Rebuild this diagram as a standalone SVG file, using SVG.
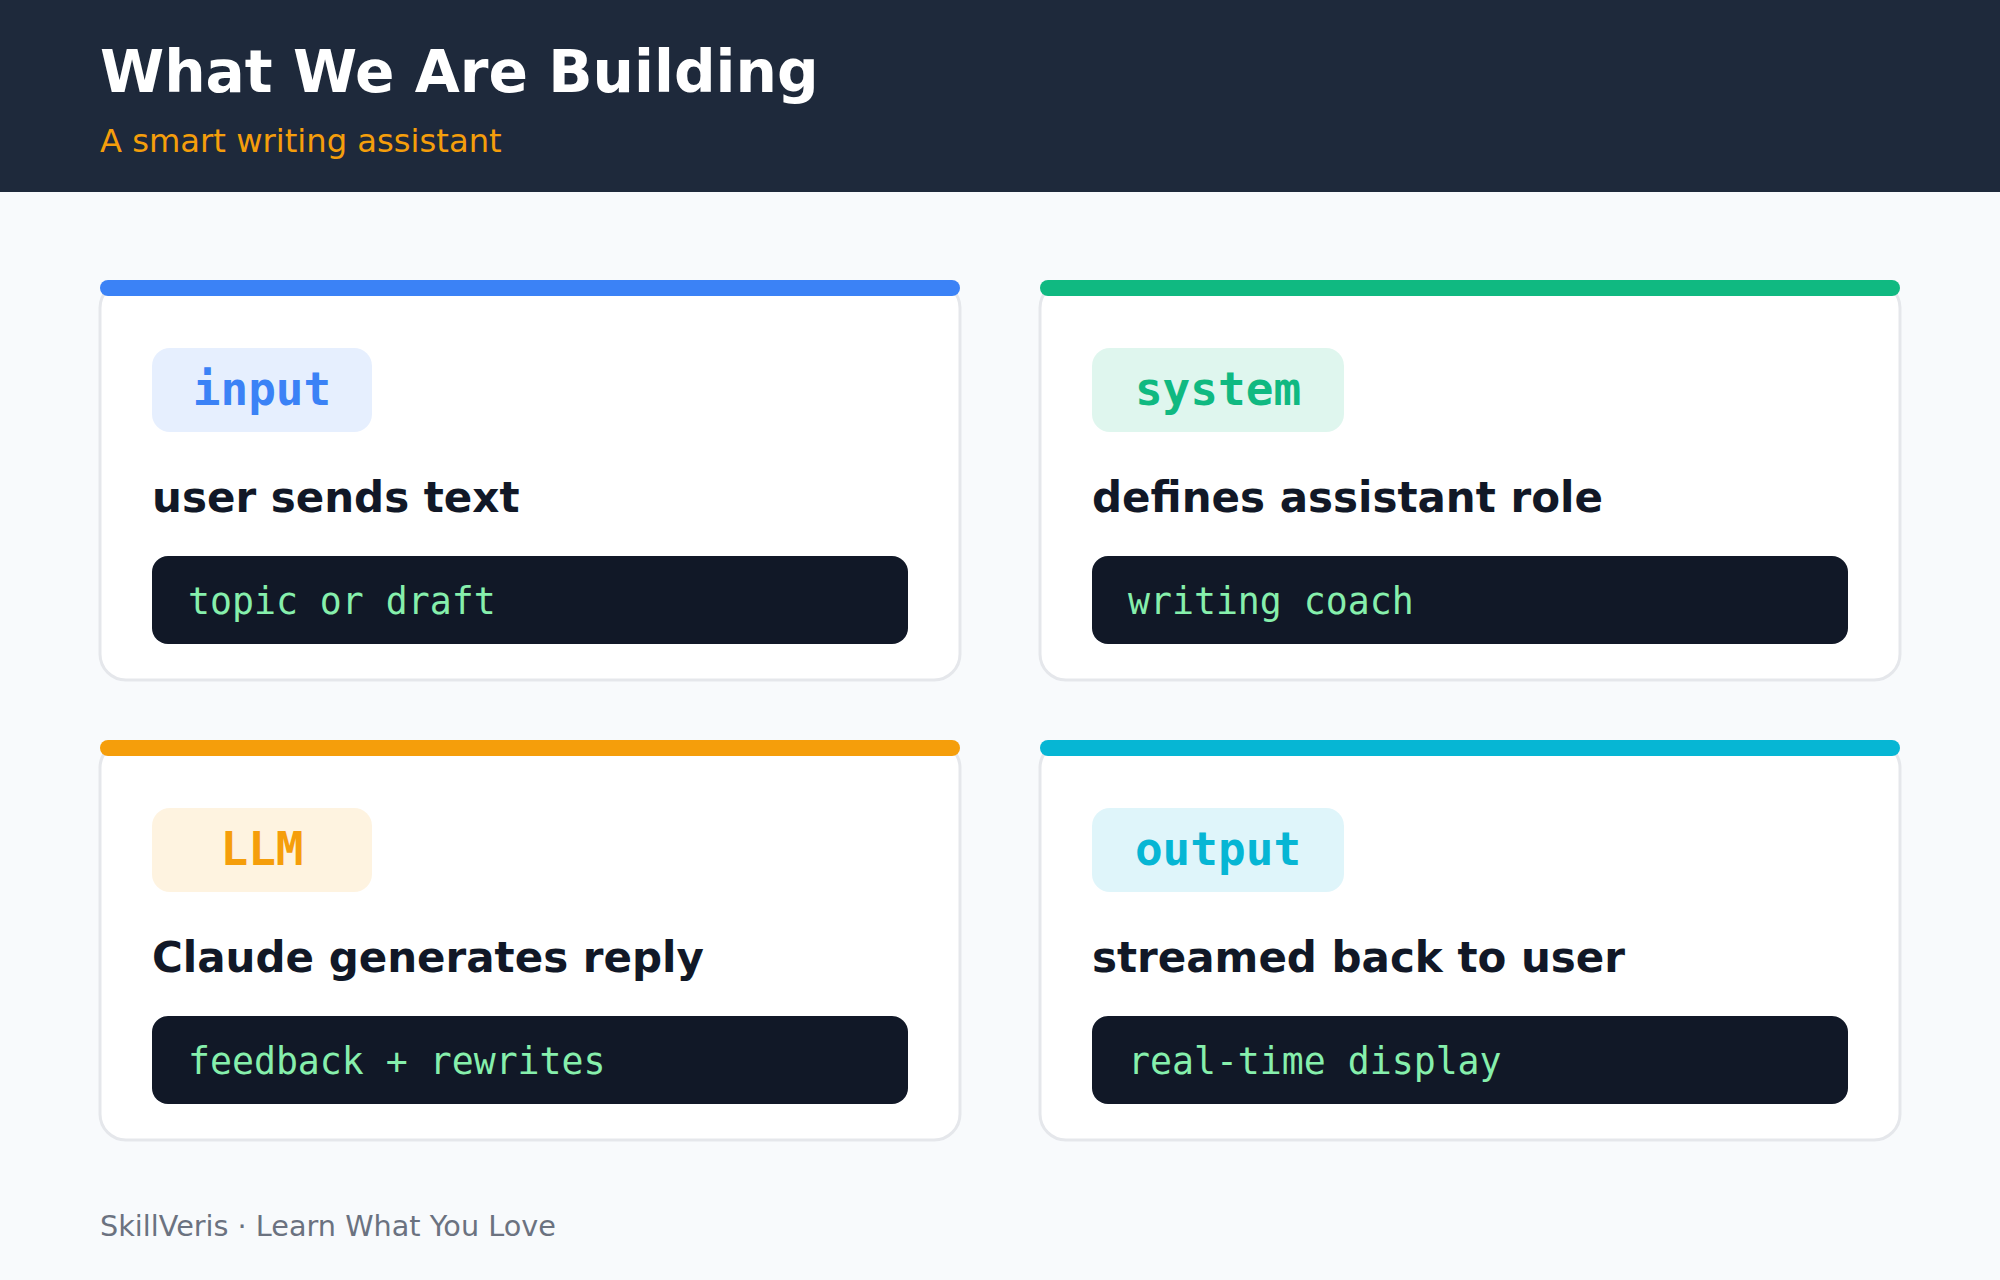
<svg xmlns="http://www.w3.org/2000/svg" width="2000" height="1280" viewBox="0 0 2000 1280">
<style>
.card{fill:#FFFFFF;stroke:#E5E7EB;stroke-width:3}
.badge-t{font-family:"DejaVu Sans Mono",monospace;font-weight:bold;font-size:46px;text-anchor:middle}
.head{font-family:"DejaVu Sans",sans-serif;font-weight:bold;font-size:42px;fill:#111827}
.code{fill:#111827}
.code-t{font-family:"DejaVu Sans Mono",monospace;font-size:36.5px;fill:#86EFAC}
</style>
<rect x="0" y="0" width="2000" height="1280" fill="#F8FAFC"/>
<rect x="0" y="0" width="2000" height="192" fill="#1E293B"/>
<text x="100" y="92" font-family="DejaVu Sans,sans-serif" font-weight="bold" font-size="58.2" fill="#FFFFFF">What We Are Building</text>
<text x="100" y="152" font-family="DejaVu Sans,sans-serif" font-size="32.2" fill="#F59E0B">A smart writing assistant</text>

<g id="node-input">
<rect class="card" x="100" y="282" width="860" height="398" rx="26"/>
<rect x="100" y="280" width="860" height="16" rx="8" fill="#3B82F6"/>
<rect x="152" y="348" width="220" height="84" rx="18" fill="#E6EFFE"/>
<text class="badge-t" x="262" y="405" fill="#3B82F6">input</text>
<text class="head" x="152" y="512">user sends text</text>
<rect class="code" x="152" y="556" width="756" height="88" rx="16"/>
<text class="code-t" x="188" y="614">topic or draft</text>
</g>

<g id="node-system">
<rect class="card" x="1040" y="282" width="860" height="398" rx="26"/>
<rect x="1040" y="280" width="860" height="16" rx="8" fill="#10B981"/>
<rect x="1092" y="348" width="252" height="84" rx="18" fill="#DFF6EE"/>
<text class="badge-t" x="1218" y="405" fill="#10B981">system</text>
<text class="head" x="1092" y="512">defines assistant role</text>
<rect class="code" x="1092" y="556" width="756" height="88" rx="16"/>
<text class="code-t" x="1128" y="614">writing coach</text>
</g>

<g id="node-llm">
<rect class="card" x="100" y="742" width="860" height="398" rx="26"/>
<rect x="100" y="740" width="860" height="16" rx="8" fill="#F59E0B"/>
<rect x="152" y="808" width="220" height="84" rx="18" fill="#FEF3E0"/>
<text class="badge-t" x="262" y="865" fill="#F59E0B">LLM</text>
<text class="head" x="152" y="972">Claude generates reply</text>
<rect class="code" x="152" y="1016" width="756" height="88" rx="16"/>
<text class="code-t" x="188" y="1074">feedback + rewrites</text>
</g>

<g id="node-output">
<rect class="card" x="1040" y="742" width="860" height="398" rx="26"/>
<rect x="1040" y="740" width="860" height="16" rx="8" fill="#06B6D4"/>
<rect x="1092" y="808" width="252" height="84" rx="18" fill="#DFF5FA"/>
<text class="badge-t" x="1218" y="865" fill="#06B6D4">output</text>
<text class="head" x="1092" y="972">streamed back to user</text>
<rect class="code" x="1092" y="1016" width="756" height="88" rx="16"/>
<text class="code-t" x="1128" y="1074">real-time display</text>
</g>

<g id="connectors"></g>

<text x="100" y="1236" font-family="DejaVu Sans,sans-serif" font-size="28.7" fill="#6B7280">SkillVeris · Learn What You Love</text>
</svg>
